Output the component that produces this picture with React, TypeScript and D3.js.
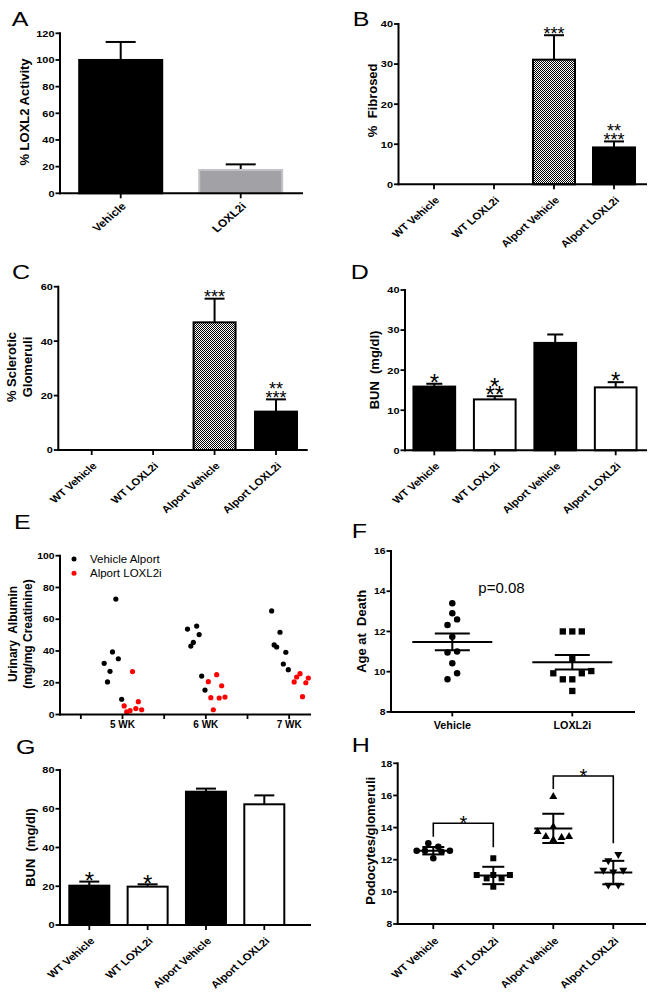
import React from "react";
import * as d3 from "d3";

const FONT = "Arial, 'Liberation Sans', Helvetica, sans-serif";
const SX = 1.15; // horizontal stretch of tick text as in the reference

// ---------- Panel A ----------
const aCats = ["Vehicle", "LOXL2i"];
const aMeans = [100, 17.5];
const aErrs = [13.5, 4.2];
const aTicks = [0, 20, 40, 60, 80, 100, 120];

// ---------- shared categories ----------
const groups4 = ["WT Vehicle", "WT LOXL2i", "Alport Vehicle", "Alport LOXL2i"];

// ---------- Panel B ----------
const bMeans = [0, 0, 31.1, 9.2];
const bErrs = [0, 0, 6.1, 1.5];
const bStars = [[], [], ["***"], ["**", "***"]];
const bTicks = [0, 10, 20, 30, 40];

// ---------- Panel C ----------
const cMeans = [0, 0, 46.9, 14.1];
const cErrs = [0, 0, 8.7, 4.5];
const cStars = [[], [], ["***"], ["**", "***"]];
const cTicks = [0, 20, 40, 60];

// ---------- Panel D ----------
const dMeans = [15.9, 12.7, 26.8, 15.7];
const dErrs = [0.7, 0.8, 2.1, 1.3];
const dStars = [["*"], ["*", "**"], [], ["*"]];
const dTicks = [0, 10, 20, 30, 40];

// ---------- Panel E ----------
const eWeeks = [5, 6, 7];
const eTicksX = [4.5, 5, 5.5, 6, 6.5, 7];
const eTicksY = [0, 20, 40, 60, 80, 100];
const eVehicle: [number, number][] = [
  [4.78, 32.2], [4.82, 20.5], [4.85, 27.2], [4.88, 39.4], [4.92, 72.7], [4.95, 35.1], [4.99, 9.6],
  [5.78, 53.8], [5.82, 43.1], [5.85, 45.4], [5.89, 55.7], [5.92, 50.3], [5.95, 24.2], [5.99, 15.4],
  [6.79, 65.2], [6.82, 43.8], [6.85, 42.5], [6.89, 51.8], [6.93, 31.8], [6.96, 39.2], [6.99, 28.2],
];
const eLoxl2i: [number, number][] = [
  [5.02, 5.4], [5.05, 1.6], [5.09, 2.4], [5.12, 27], [5.16, 3.7], [5.19, 8.1], [5.23, 3.0],
  [6.03, 20.7], [6.06, 10.6], [6.09, 3.0], [6.13, 25.1], [6.16, 10.4], [6.19, 18.1], [6.23, 11.0],
  [7.06, 20.5], [7.09, 23.6], [7.13, 25.7], [7.16, 11.2], [7.2, 20.0], [7.23, 23.0],
];

// ---------- Panel F ----------
const fCats = ["Vehicle", "LOXL2i"];
const fTicks = [8, 10, 12, 14, 16];
const fVehicle: [number, number][] = [
  [0, 13.4], [0, 12.9], [1, 12.6], [-1, 12.32], [0, 11.74], [-1, 10.95], [1, 11.0], [0, 10.42], [1, 9.92], [-1, 9.62],
];
const fLoxl2i: [number, number][] = [
  [-1, 12.0], [0, 12.0], [1, 12.0], [0, 10.65], [-2, 9.92], [1, 9.92], [2, 10.03], [-1, 9.62], [0, 9.62], [0, 9.04],
];
const fMean = [11.48, 10.47];
const fSem = [0.42, 0.36];

// ---------- Panel G ----------
const gMeans = [20.3, 19.8, 68.8, 62.3];
const gErrs = [2.1, 1.2, 1.6, 4.6];
const gStars = [["*"], ["*"], [], []];
const gTicks = [0, 20, 40, 60, 80];

// ---------- Panel H ----------
const hTicks = [8, 10, 12, 14, 16, 18];
const hPoints: [number, number][][] = [
  [[-2, 12.56], [-1, 12.56], [-0.6, 13.02], [0.6, 12.81], [1, 12.5], [2, 12.56], [0, 12.09]],
  [[-2, 11.05], [-0.8, 10.84], [0, 11.05], [1, 10.84], [2, 11.05], [0, 12.09], [0, 10.32]],
  [[0, 15.92], [-1.9, 13.74], [-0.9, 13.43], [0, 14.05], [0, 13.23], [1, 13.37], [1.9, 13.43]],
  [[0.6, 12.34], [-0.6, 11.94], [-1.2, 11.36], [0, 11.25], [1.2, 11.36], [-0.6, 10.43], [0.6, 10.43]],
];
const hMean = [12.56, 11.02, 13.95, 11.2];
const hSd = [0.23, 0.54, 0.91, 0.73];
const hBrackets = [
  { a: 0, b: 1, level: 14.27, legA: 13.43, legB: 12.78, label: "*" },
  { a: 2, b: 3, level: 17.21, legA: 16.4, legB: 13.02, label: "*" },
];

// ================= helpers =================
type Lin = d3.ScaleLinear<number, number>;

function YAxis({ y, x, ticks, fs = 9.5 }: { y: Lin; x: number; ticks: number[]; fs?: number }) {
  const [r0, r1] = y.range();
  return (
    <g>
      <line x1={x} x2={x} y1={r0} y2={r1} stroke="#000" strokeWidth={2} strokeLinecap="square" />
      {ticks.map((t) => (
        <g key={t}>
          <line x1={x - 4.5} x2={x} y1={y(t)} y2={y(t)} stroke="#000" strokeWidth={1.8} />
          <text
            transform={`translate(${x - 5.5},${y(t)}) scale(${SX},1)`}
            textAnchor="end"
            dy="0.36em"
            fontSize={fs}
            fontWeight="bold"
          >
            {t}
          </text>
        </g>
      ))}
    </g>
  );
}

function YTitle({ lines, cx, cy, fs = 13, gap = 15 }: { lines: string[]; cx: number; cy: number; fs?: number; gap?: number }) {
  const n = lines.length;
  return (
    <g>
      {lines.map((l, i) => (
        <text
          key={i}
          transform={`translate(${cx + (i - (n - 1) / 2) * gap},${cy}) rotate(-90)`}
          textAnchor="middle"
          dy="0.36em"
          fontSize={fs}
          fontWeight="bold"
          style={{ whiteSpace: "pre" }}
        >
          {l}
        </text>
      ))}
    </g>
  );
}

function Letter({ ch, x, y }: { ch: string; x: number; y: number }) {
  return (
    <text transform={`translate(${x},${y}) scale(1.25,1)`} fontSize={20}>
      {ch}
    </text>
  );
}

// Stacked significance asterisks drawn as ONE text with per-glyph positions
function StarStack({ rows, xc, bottomY, fs, step }: { rows: string[]; xc: number; bottomY: number; fs: number; step: number }) {
  const adv = 0.389 * fs;
  const xs: number[] = [];
  const ys: number[] = [];
  let txt = "";
  rows.forEach((row, j) => {
    const k = rows.length - 1 - j;
    const cy = bottomY - k * step;
    const n = row.length;
    for (let i = 0; i < n; i++) {
      xs.push(xc + (i - (n - 1) / 2) * adv);
      ys.push(cy + 0.58 * fs);
      txt += row[i];
    }
  });
  return (
    <text x={xs.join(" ")} y={ys.join(" ")} textAnchor="middle" fontSize={fs}>
      {txt}
    </text>
  );
}

type BarCfg = {
  cats: string[];
  means: number[];
  errs: number[];
  stars?: string[][];
  fills: string[];
  strokes: string[];
  yDomain: [number, number];
  yRange: [number, number];
  ticks: number[];
  axisX: number;
  axisEnd: number;
  cx: [number, number];
  bw: number;
  capW: number;
  starFs?: number;
  starGap?: number;
  starStep?: number;
  tickFs?: number;
  labFs?: number;
  labOff?: [number, number];
};

function BarPanel(c: BarCfg) {
  const y = d3.scaleLinear().domain(c.yDomain).range(c.yRange);
  const x = d3.scalePoint<string>().domain(c.cats).range(c.cx);
  const y0 = y(0);
  const sfs = c.starFs ?? 18;
  const [lox, loy] = c.labOff ?? [3, 14];
  return (
    <g>
      {c.cats.map((cat, i) => {
        const m = c.means[i];
        if (m <= 0) return null;
        const xc = x(cat)!;
        const top = y(m);
        const et = y(m + c.errs[i]);
        return (
          <g key={cat}>
            <line x1={xc} x2={xc} y1={top} y2={et} stroke="#000" strokeWidth={2} />
            <line x1={xc - c.capW / 2} x2={xc + c.capW / 2} y1={et} y2={et} stroke="#000" strokeWidth={2} />
            <rect
              x={xc - c.bw / 2}
              y={top}
              width={c.bw}
              height={y0 - top}
              fill={c.fills[i]}
              stroke={c.strokes[i]}
              strokeWidth={2}
            />
          </g>
        );
      })}
      {c.stars &&
        c.cats.map((cat, i) => {
          const s = c.stars![i];
          if (!s.length) return null;
          const et = y(c.means[i] + c.errs[i]);
          return (
            <StarStack
              key={"st" + cat}
              rows={s}
              xc={x(cat)!}
              bottomY={et - (c.starGap ?? 6)}
              fs={sfs}
              step={c.starStep ?? 9}
            />
          );
        })}
      <YAxis y={y} x={c.axisX} ticks={c.ticks} fs={c.tickFs} />
      <line x1={c.axisX} x2={c.axisEnd} y1={y0} y2={y0} stroke="#000" strokeWidth={2} strokeLinecap="square" />
      {c.cats.map((cat) => (
        <g key={cat}>
          <line x1={x(cat)} x2={x(cat)} y1={y0} y2={y0 + 5} stroke="#000" strokeWidth={1.8} />
          <text
            transform={`translate(${x(cat)! + lox},${y0 + loy}) scale(${SX},1) rotate(-45)`}
            textAnchor="end"
            dy="0.36em"
            fontSize={c.labFs ?? 10}
            fontWeight="bold"
          >
            {cat}
          </text>
        </g>
      ))}
    </g>
  );
}

function PanelE() {
  const x = d3.scaleLinear().domain([4.25, 7.25]).range([60, 310]);
  const y = d3.scaleLinear().domain([0, 100]).range([714.5, 555.7]);
  return (
    <g>
      {eVehicle.map(([w, v], i) => (
        <circle key={"b" + i} cx={x(w)} cy={y(v)} r={2.6} fill="#000" />
      ))}
      {eLoxl2i.map(([w, v], i) => (
        <circle key={"r" + i} cx={x(w)} cy={y(v)} r={2.6} fill="#ff0000" />
      ))}
      <YAxis y={y} x={60} ticks={eTicksY} fs={9} />
      <line x1={60} x2={310} y1={y(0)} y2={y(0)} stroke="#000" strokeWidth={2} strokeLinecap="square" />
      {eTicksX.map((t) => (
        <line key={t} x1={x(t)} x2={x(t)} y1={y(0)} y2={y(0) + 4.5} stroke="#000" strokeWidth={1.8} />
      ))}
      {eWeeks.map((w) => (
        <text key={w} x={x(w)} y={728.3} textAnchor="middle" fontSize={10} fontWeight="bold">
          {w} WK
        </text>
      ))}
      {/* legend */}
      <circle cx={74} cy={559} r={2.5} fill="#000" />
      <text x={90} y={559} dy="0.36em" fontSize={11.5}>
        Vehicle Alport
      </text>
      <circle cx={74} cy={573.3} r={2.5} fill="#ff0000" />
      <text x={90} y={573.3} dy="0.36em" fontSize={11.5}>
        Alport LOXL2i
      </text>
      <YTitle lines={["Urinary  Albumin", "(mg/mg Creatinine)"]} cx={20.2} cy={634} fs={12} gap={14.7} />
    </g>
  );
}

function PanelF() {
  const y = d3.scaleLinear().domain([8, 16]).range([711.9, 551]);
  const x = d3.scalePoint<string>().domain(fCats).range([452.3, 572.3]);
  const circle = d3.symbol(d3.symbolCircle, 33)()!;
  const square = d3.symbol(d3.symbolSquare, 40)()!;
  const sets = [fVehicle, fLoxl2i];
  const spacing = [4.8, 9.5];
  return (
    <g>
      {sets.map((pts, g) =>
        pts.map(([s, v], i) => (
          <path
            key={g + "-" + i}
            d={g === 0 ? circle : square}
            transform={`translate(${x(fCats[g])! + s * spacing[g]},${y(v)})`}
            fill="#000"
          />
        ))
      )}
      {fCats.map((cat, g) => {
        const xc = x(cat)!;
        const m = fMean[g];
        const e = fSem[g];
        return (
          <g key={cat} stroke="#000" strokeWidth={2}>
            <line x1={xc - 40} x2={xc + 40} y1={y(m)} y2={y(m)} />
            <line x1={xc} x2={xc} y1={y(m - e)} y2={y(m + e)} />
            <line x1={xc - 17.5} x2={xc + 17.5} y1={y(m + e)} y2={y(m + e)} />
            <line x1={xc - 17.5} x2={xc + 17.5} y1={y(m - e)} y2={y(m - e)} />
          </g>
        );
      })}
      <YAxis y={y} x={391} ticks={fTicks} fs={9} />
      <line x1={391} x2={634} y1={y(8)} y2={y(8)} stroke="#000" strokeWidth={2} strokeLinecap="square" />
      {fCats.map((cat) => (
        <g key={cat}>
          <line x1={x(cat)} x2={x(cat)} y1={y(8)} y2={y(8) + 4.5} stroke="#000" strokeWidth={1.8} />
          <text
            transform={`translate(${x(cat)},729) scale(1.08,1)`}
            textAnchor="middle"
            fontSize={10}
            fontWeight="bold"
          >
            {cat}
          </text>
        </g>
      ))}
      <text x={478.3} y={593.3} fontSize={15}>
        p=0.08
      </text>
      <YTitle lines={["Age at  Death"]} cx={361.7} cy={631.3} />
    </g>
  );
}

function PanelH() {
  const y = d3.scaleLinear().domain([8, 18]).range([924, 763.3]);
  const x = d3.scalePoint<string>().domain(groups4).range([433.3, 613.3]);
  const syms = [
    d3.symbol(d3.symbolCircle, 34)()!,
    d3.symbol(d3.symbolSquare, 36)()!,
    d3.symbol(d3.symbolTriangle, 28)()!,
    d3.symbol(d3.symbolTriangle, 28)()!,
  ];
  const spacing = 8.3;
  return (
    <g>
      {hPoints.map((pts, g) =>
        pts.map(([s, v], i) => (
          <path
            key={g + "-" + i}
            d={syms[g]}
            transform={`translate(${x(groups4[g])! + s * spacing},${y(v)})${g === 3 ? " rotate(180)" : ""}`}
            fill="#000"
          />
        ))
      )}
      {groups4.map((cat, g) => {
        const xc = x(cat)!;
        const m = hMean[g];
        const e = hSd[g];
        return (
          <g key={cat} stroke="#000" strokeWidth={2}>
            <line x1={xc - 19} x2={xc + 19} y1={y(m)} y2={y(m)} />
            <line x1={xc} x2={xc} y1={y(m - e)} y2={y(m + e)} />
            <line x1={xc - 11} x2={xc + 11} y1={y(m + e)} y2={y(m + e)} />
            <line x1={xc - 11} x2={xc + 11} y1={y(m - e)} y2={y(m - e)} />
          </g>
        );
      })}
      {hBrackets.map((b, i) => {
        const xa = x(groups4[b.a])!;
        const xb = x(groups4[b.b])!;
        return (
          <g key={i}>
            <path
              d={`M${xa},${y(b.legA)}V${y(b.level)}H${xb}V${y(b.legB)}`}
              fill="none"
              stroke="#000"
              strokeWidth={1.6}
            />
            <text x={(xa + xb) / 2} y={y(b.level) - 5 + 0.58 * 20} textAnchor="middle" fontSize={20}>
              {b.label}
            </text>
          </g>
        );
      })}
      <YAxis y={y} x={397.7} ticks={hTicks} fs={9} />
      <line x1={397.7} x2={645} y1={y(8)} y2={y(8)} stroke="#000" strokeWidth={2} strokeLinecap="square" />
      {groups4.map((cat) => (
        <g key={cat}>
          <line x1={x(cat)} x2={x(cat)} y1={y(8)} y2={y(8) + 5} stroke="#000" strokeWidth={1.8} />
          <text
            transform={`translate(${x(cat)! + 3},${y(8) + 15}) scale(${SX},1) rotate(-45)`}
            textAnchor="end"
            dy="0.36em"
            fontSize={10}
            fontWeight="bold"
          >
            {cat}
          </text>
        </g>
      ))}
      <YTitle lines={["Podocytes/glomeruli"]} cx={370.8} cy={840.8} />
    </g>
  );
}

export default function App() {
  return (
    <svg
      width={653}
      height={1006}
      viewBox="0 0 653 1006"
      style={{ position: "absolute", left: 0, top: 0, background: "#fff" }}
      fontFamily={FONT}
    >
      <defs>
        <pattern id="checker" width={2} height={2} patternUnits="userSpaceOnUse">
          <rect width={2} height={2} fill="#fff" />
          <rect width={1} height={1} fill="#000" />
          <rect x={1} y={1} width={1} height={1} fill="#000" />
        </pattern>
      </defs>
      <rect width={653} height={1006} fill="#fff" />

      {/* A */}
      <Letter ch="A" x={11.7} y={26} />
      <BarPanel
        cats={aCats}
        means={aMeans}
        errs={aErrs}
        fills={["#000", "#a2a2a6"]}
        strokes={["#000", "#c4c4c8"]}
        yDomain={[0, 120]}
        yRange={[193.3, 33.3]}
        ticks={aTicks}
        axisX={60}
        axisEnd={302}
        cx={[120.7, 240.7]}
        bw={83}
        capW={30}
        tickFs={9.5}
        labFs={10.5}
        labOff={[3, 11]}
      />
      <YTitle lines={["% LOXL2 Activity"]} cx={24} cy={112} />

      {/* B */}
      <Letter ch="B" x={352.7} y={25.5} />
      <BarPanel
        cats={groups4}
        means={bMeans}
        errs={bErrs}
        stars={bStars}
        fills={["none", "none", "url(#checker)", "#000"]}
        strokes={["#000", "#000", "#000", "#000"]}
        yDomain={[0, 40]}
        yRange={[184.3, 24]}
        ticks={bTicks}
        axisX={398.5}
        axisEnd={646}
        cx={[434, 614]}
        bw={42}
        capW={20}
        starFs={18}
        starGap={6}
        starStep={9}
      />
      <YTitle lines={["%  Fibrosed"]} cx={372.5} cy={100.3} />

      {/* C */}
      <Letter ch="C" x={12} y={278.5} />
      <BarPanel
        cats={groups4}
        means={cMeans}
        errs={cErrs}
        stars={cStars}
        fills={["none", "none", "url(#checker)", "#000"]}
        strokes={["#000", "#000", "#000", "#000"]}
        yDomain={[0, 60]}
        yRange={[450, 286.7]}
        ticks={cTicks}
        axisX={58.3}
        axisEnd={306.7}
        cx={[91.7, 276]}
        bw={42}
        capW={20}
        starFs={18}
        starGap={5.8}
        starStep={9}
      />
      <YTitle lines={["% Sclerotic", "Glomeruli"]} cx={19.3} cy={367} gap={15.3} />

      {/* D */}
      <Letter ch="D" x={350.7} y={279.3} />
      <BarPanel
        cats={groups4}
        means={dMeans}
        errs={dErrs}
        stars={dStars}
        fills={["#000", "#fff", "#000", "#fff"]}
        strokes={["#000", "#000", "#000", "#000"]}
        yDomain={[0, 40]}
        yRange={[450.3, 290]}
        ticks={dTicks}
        axisX={405}
        axisEnd={646}
        cx={[434.3, 615.7]}
        bw={41.7}
        capW={16}
        starFs={24}
        starGap={7}
        starStep={8.3}
      />
      <YTitle lines={["BUN  (mg/dl)"]} cx={374.2} cy={370} />

      {/* E */}
      <Letter ch="E" x={14} y={529.3} />
      <PanelE />

      {/* F */}
      <Letter ch="F" x={351.7} y={538} />
      <PanelF />

      {/* G */}
      <Letter ch="G" x={16} y={754} />
      <BarPanel
        cats={groups4}
        means={gMeans}
        errs={gErrs}
        stars={gStars}
        fills={["#000", "#fff", "#000", "#fff"]}
        strokes={["#000", "#000", "#000", "#000"]}
        yDomain={[0, 80]}
        yRange={[925, 770]}
        ticks={gTicks}
        axisX={60}
        axisEnd={310}
        cx={[89.3, 264.3]}
        bw={40}
        capW={20}
        starFs={24}
        starGap={6.5}
        starStep={8.3}
      />
      <YTitle lines={["BUN  (mg/dl)"]} cx={30.8} cy={847.5} />

      {/* H */}
      <Letter ch="H" x={351.7} y={751.7} />
      <PanelH />
    </svg>
  );
}
